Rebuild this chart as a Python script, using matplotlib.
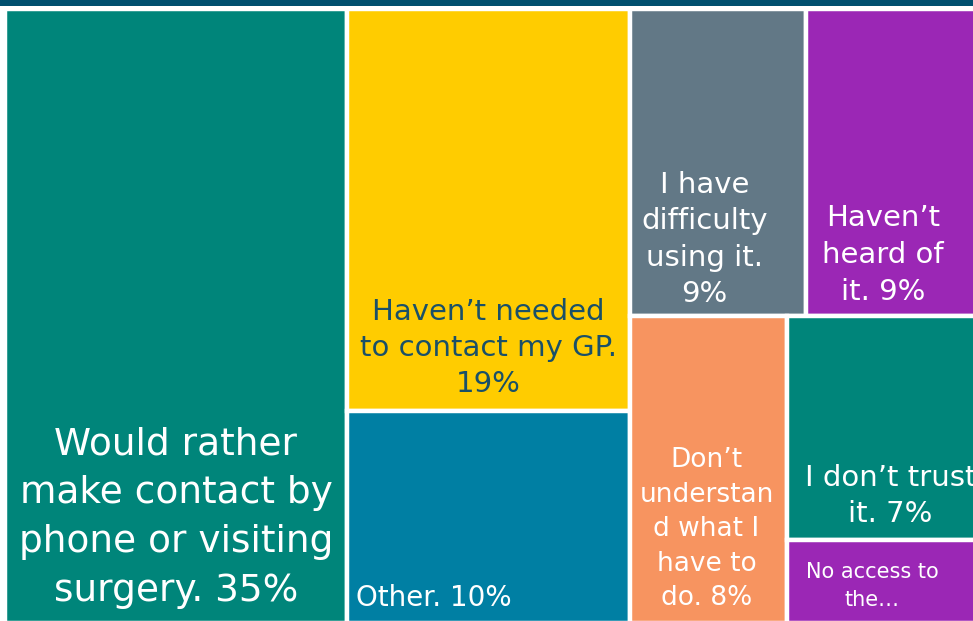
import matplotlib
matplotlib.use("Agg")
from matplotlib import pyplot as plt
from matplotlib.patches import Rectangle

# survey answers, in reading order of the tiles
labels = [
    "Would rather\nmake contact by\nphone or visiting\nsurgery. 35%",
    "Haven\u2019t needed\nto contact my GP.\n19%",
    "Other. 10%",
    "I have\ndifficulty\nusing it.\n9%",
    "Haven\u2019t\nheard of\nit. 9%",
    "Don\u2019t\nunderstan\nd what I\nhave to\ndo. 8%",
    "I don\u2019t trust\nit. 7%",
    "No access to\nthe\u2026",
]
values = [35, 19, 10, 9, 9, 8, 7.3, 2.7]
colors = ["#00857A", "#FFCC00", "#007FA3", "#627886",
          "#9B27B5", "#F79460", "#00857A", "#9B27B5"]
text_colors = ["white", "#1A5068", "white", "white",
               "white", "white", "white", "white"]

# grouping of tiles (indices into the lists above), directions alternate
layout = [[0], [1, 2], [[3, 4], [5, [6, 7]]]]

# label style per tile: font size, line spacing, horizontal shift (px), pad (px)
sizes = [27, 21, 20, 21, 21, 19, 21, 15]
spacings = [1.46, 1.38, 1.38, 1.38, 1.42, 1.42, 1.38, 1.5]
shifts = [0, 0, 0, -14, -11, -2, 6, -12]
pads = [14, 13, 11, 8, 10, 12, 12, 13]
aligns = ["center"] * 8
aligns[2] = "left"


def total(node):
    if isinstance(node, list):
        return sum(total(n) for n in node)
    return values[node]


def split(node, x, y, w, h, horizontal, out):
    if not isinstance(node, list):
        out[node] = (x, y, w, h)
        return
    s = total(node)
    pos = 0
    for child in node:
        f = total(child) / s
        if horizontal:
            split(child, x + pos * w, y, w * f, h, False, out)
        else:
            split(child, x, y + pos * h, w, h * f, True, out)
        pos += f


def main():
    fig = plt.figure(figsize=(9.73, 6.21), dpi=100)
    ax = fig.add_axes([0, 0, 1, 1])
    ax.set_xlim(0, 973)
    ax.set_ylim(621, 0)
    ax.axis("off")

    rects = {}
    split(layout, 5, 9, 977, 614, True, rects)

    for i in range(len(values)):
        x, y, w, h = rects[i]
        ax.add_patch(Rectangle((x, y), w, h, facecolor=colors[i],
                               edgecolor="white", linewidth=3.2))
        if aligns[i] == "left":
            tx = x + 9
        else:
            tx = x + w / 2 + shifts[i]
        ax.text(tx, y + h - pads[i], labels[i], color=text_colors[i],
                fontsize=sizes[i], ha=aligns[i], va="bottom",
                multialignment="center", linespacing=spacings[i],
                family=["DejaVu Sans"], clip_on=True)

    # dark band along the top
    ax.add_patch(Rectangle((0, 0), 973, 6, facecolor="#004F6E",
                           edgecolor="none"))

    fig.savefig("out.png", dpi=100)


if __name__ == "__main__":
    main()
